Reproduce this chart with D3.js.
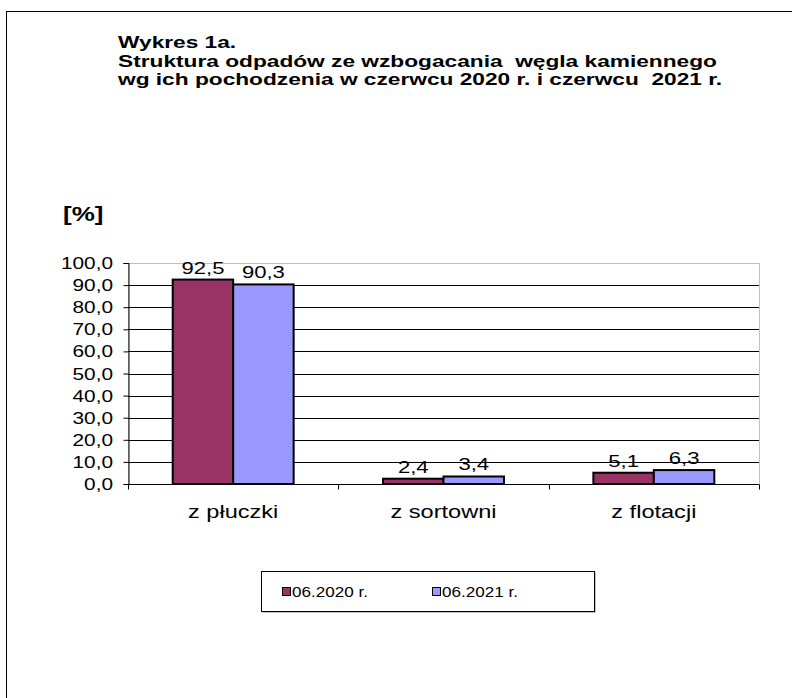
<!DOCTYPE html>
<html>
<head>
<meta charset="utf-8">
<script src="https://cdn.jsdelivr.net/npm/d3@7/dist/d3.min.js"></script>
<style>
  body { margin: 0; background: #fff; }
  text { font-family: "Liberation Sans", Arial, sans-serif; fill: #000; }
</style>
</head>
<body>
<div id="chart-area"></div>
<script>
// data
var categories = ["z płuczki", "z sortowni", "z flotacji"];
var seriesNames = ["06.2020 r.", "06.2021 r."];
var values2020 = [92.5, 2.4, 5.1];
var values2021 = [90.3, 3.4, 6.3];
var yTicks = [0, 10, 20, 30, 40, 50, 60, 70, 80, 90, 100];
var titleLines = ["Wykres 1a.",
    "Struktura odpadów ze wzbogacania  węgla kamiennego",
    "wg ich pochodzenia w czerwcu 2020 r. i czerwcu  2021 r."];

var colors = ["#993366", "#9999ff"];

var svg = d3.select("#chart-area").append("svg")
    .attr("width", 792)
    .attr("height", 698);

// outer frame (runs off the right and bottom)
svg.append("rect")
    .attr("x", 6.5).attr("y", 11.5)
    .attr("width", 900).attr("height", 900)
    .attr("fill", "none").attr("stroke", "#000");

// text in the original is stretched sideways, so scale x a bit
function stretched(x, y, size, sx, weight, anchor, str) {
    return svg.append("text")
        .attr("transform", "translate(" + x + "," + y + ") scale(" + sx + ",1)")
        .attr("font-size", size + "px")
        .attr("font-weight", weight)
        .attr("text-anchor", anchor)
        .style("white-space", "pre")
        .text(str);
}

// title
titleLines.forEach(function(t, i) {
    stretched(118, 48 + i * 18.5, 16, 1.42, "bold", "start", t);
});

// unit label
stretched(63, 221, 20, 1.3, "bold", "start", "[%]");

var margin = { left: 128, top: 263 },
    width = 759 - 128,
    height = 484 - 263;

var g = svg.append("g")
    .attr("transform", "translate(" + margin.left + "," + margin.top + ")");

var x0 = d3.scaleBand().domain(categories).range([0, width]);
var x1 = d3.scaleBand().domain(seriesNames).range([0, x0.bandwidth() * 0.575]);
var y = d3.scaleLinear().domain([0, 100]).range([height, 0]);
var fmt = function(d) { return d3.format(".1f")(d).replace(".", ","); };

// plot border (grey top/right)
g.append("rect")
    .attr("x", 0.5).attr("y", 0.5)
    .attr("width", width).attr("height", height)
    .attr("fill", "none").attr("stroke", "#c0c0c0");

// gridlines
g.selectAll(".grid").data(yTicks.filter(function(d) { return d > 0 && d < 100; }))
    .enter().append("line")
    .attr("x1", 0).attr("x2", width)
    .attr("y1", function(d) { return Math.round(y(d)) + 0.5; })
    .attr("y2", function(d) { return Math.round(y(d)) + 0.5; })
    .attr("stroke", "#000");

// y axis
var yAxis = g.append("g").attr("transform", "translate(0.5,0)")
    .call(d3.axisLeft(y).tickValues(yTicks).tickSize(5).tickFormat(""));
yAxis.select(".domain").attr("stroke", "#000");
yTicks.forEach(function(d) {
    stretched(margin.left - 15, margin.top + y(d) + 6, 16, 1.3, "normal", "end", fmt(d));
});

// x axis
var xAxis = g.append("g").attr("transform", "translate(0," + (height + 0.5) + ")");
xAxis.append("line").attr("x1", 0).attr("x2", width).attr("stroke", "#000");
xAxis.selectAll(".tick").data(d3.range(categories.length + 1))
    .enter().append("line")
    .attr("x1", function(i) { return Math.round(i * x0.bandwidth()) + 0.5; })
    .attr("x2", function(i) { return Math.round(i * x0.bandwidth()) + 0.5; })
    .attr("y1", 0).attr("y2", 5)
    .attr("stroke", "#000");
categories.forEach(function(c) {
    stretched(margin.left + x0(c) + x0.bandwidth() / 2, margin.top + height + 34, 19, 1.24, "normal", "middle", c);
});

// bars
var series = [values2020, values2021];
var groupOffset = (x0.bandwidth() - x1.range()[1]) / 2;
series.forEach(function(vals, si) {
    g.selectAll(".bar" + si).data(vals).enter().append("rect")
        .attr("x", function(d, i) { return x0(categories[i]) + groupOffset + x1(seriesNames[si]); })
        .attr("y", function(d) { return y(d); })
        .attr("width", x1.bandwidth())
        .attr("height", function(d) { return height - y(d); })
        .attr("fill", colors[si])
        .attr("stroke", "#000")
        .attr("stroke-width", 2);
    vals.forEach(function(d, i) {
        stretched(margin.left + x0(categories[i]) + groupOffset + x1(seriesNames[si]) + x1.bandwidth() / 2,
            margin.top + y(d) - 6, 17, 1.3, "normal", "middle", fmt(d));
    });
});

// legend
var lg = svg.append("g").attr("transform", "translate(261,571)");
lg.append("rect").attr("x", 1.5).attr("y", 1.5).attr("width", 333).attr("height", 40).attr("fill", "#808080");
lg.append("rect").attr("x", 0.5).attr("y", 0.5).attr("width", 333).attr("height", 40)
    .attr("fill", "#fff").attr("stroke", "#000");
seriesNames.forEach(function(s, i) {
    var lx = 21 + i * 150;
    lg.append("rect").attr("x", lx + 0.5).attr("y", 16.5).attr("width", 8).attr("height", 8)
        .attr("fill", colors[i]).attr("stroke", "#000");
    stretched(261 + lx + 10, 571 + 26, 15, 1.14, "normal", "start", s);
});
</script>
</body>
</html>
